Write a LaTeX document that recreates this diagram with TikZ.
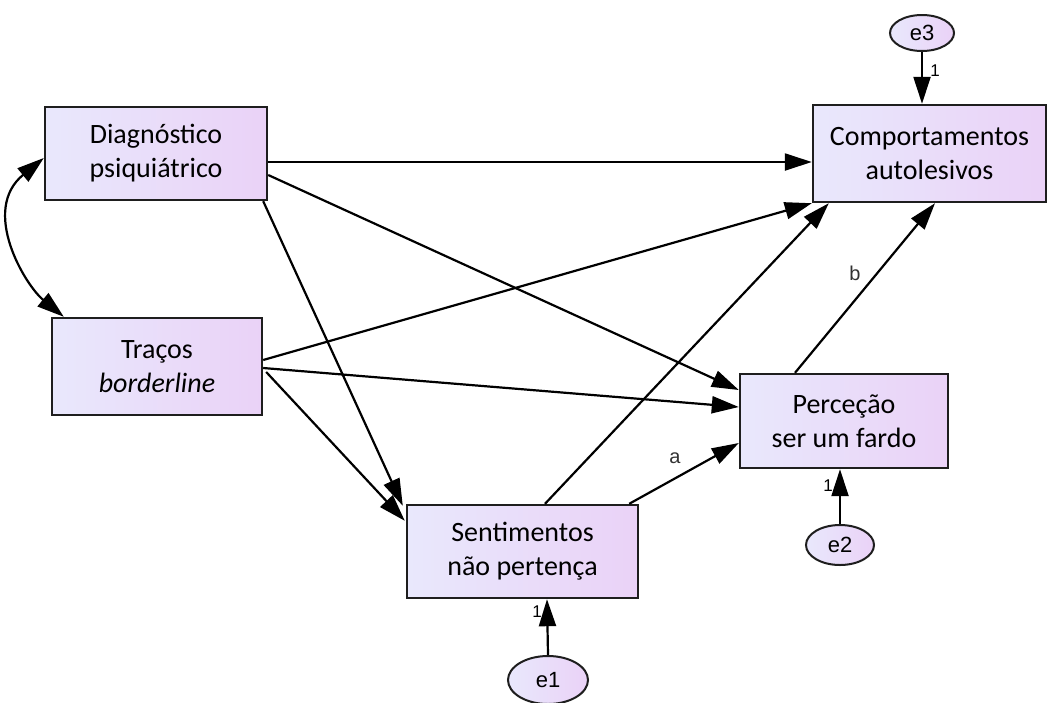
\documentclass[tikz,border=0pt]{standalone}
\usepackage{fontspec}
\setmainfont{Carlito}
\newfontfamily\arialf{Liberation Sans}
\usetikzlibrary{arrows.meta,calc,shapes.geometric}
\definecolor{boxL}{RGB}{233,232,252}
\definecolor{boxR}{RGB}{234,210,247}
\definecolor{edgec}{RGB}{30,30,30}
\definecolor{labc}{RGB}{50,50,50}
\begin{document}
\begin{tikzpicture}[x=1pt,y=-1pt,
  box/.style={draw=edgec, line width=2.4pt, left color=boxL, right color=boxR,
    align=center, inner sep=0pt, font=\fontsize{28}{34}\selectfont},
  err/.style={ellipse, draw=edgec, line width=2pt, left color=boxL, right color=boxR,
    inner sep=0pt, font=\arialf\fontsize{22}{24}\selectfont},
  tip/.style={Triangle[length=27pt,width=17pt]},
  arr/.style={-{Triangle[length=27pt,width=17pt]}, line width=2.2pt, draw=black},
  lab/.style={font=\arialf\fontsize{17}{19}\selectfont, inner sep=0pt},
  plab/.style={font=\arialf\fontsize{20}{22}\selectfont, text=labc, inner sep=0pt}]
\useasboundingbox (0,0) rectangle (1049,702);
\fill[white] (0,0) rectangle (1049,702);

\node[box, minimum width=222pt, minimum height=93pt] (diag) at (156,153.5) {Diagnóstico\\psiquiátrico};
\node[box, minimum width=210pt, minimum height=97pt] (trac) at (157,366.5) {Traços\\\textit{borderline}};
\node[box, minimum width=233pt, minimum height=97pt] (comp) at (929.5,153.5) {Comportamentos\\autolesivos};
\node[box, minimum width=208pt, minimum height=94pt] (perc) at (844,421) {Perceção\\ser um fardo};
\node[box, minimum width=231pt, minimum height=93pt] (sent) at (522.5,551.5) {Sentimentos\\não pertença};

\node[err, minimum width=64pt, minimum height=36pt] (e3) at (922,33) {e3};
\node[err, minimum width=68pt, minimum height=40pt] (e2) at (840,545) {e2};
\node[err, minimum width=80pt, minimum height=48pt] (e1) at (548,680) {e1};

% paths
\draw[arr] ($(diag.east)+(0,8.5)$) -- ($(comp.west)+(0,8.5)$);
\draw[arr] ($(diag.east)+(0,21.5)$) -- ($(perc.west)+(0,-31)$);
\draw[arr] ($(diag.south east)+(-5,0)$) -- ($(sent.north west)+(-3,2)$);
\draw[arr] ($(trac.east)+(0,-6.5)$) -- (comp.south west);
\draw[arr] ($(trac.east)+(0,1.5)$) -- ($(perc.west)+(0,-14)$);
\draw[arr] ($(trac.east)+(3,5.5)$) -- ($(sent.north west)+(-1,17)$);
\draw[arr] ($(sent.north)+(22.5,0)$) -- ($(comp.south west)+(17,0)$);
\draw[arr] ($(sent.north east)+(-10,0)$) -- ($(perc.west)+(0,22)$);
\draw[arr] ($(perc.north)+(-49,0)$) -- ($(comp.south)+(5.5,0)$);

\draw[arr] (e3) -- (e3 |- comp.north);
\draw[arr] (e2) -- (e2 |- perc.south);
\draw[arr] (e1.north) -- ($(sent.south)+(24.5,0)$);

% covariance
\draw[line width=2.2pt, {Triangle[length=27pt,width=17pt]}-{Triangle[length=27pt,width=17pt]}]
  ($(trac.north west)+(13,0)$) .. controls (25,285) and (-20,210) .. ($(diag.west)+(0,4.5)$);

% labels
\node[lab] (l3) at (935,71) {1};
\node[lab] (l2) at (828,486) {1};
\node[lab] (l1) at (537,612) {1};
\node[plab] (la) at (675,458) {a};
\node[plab] (lb) at (855,273) {b};
\end{tikzpicture}
\end{document}
